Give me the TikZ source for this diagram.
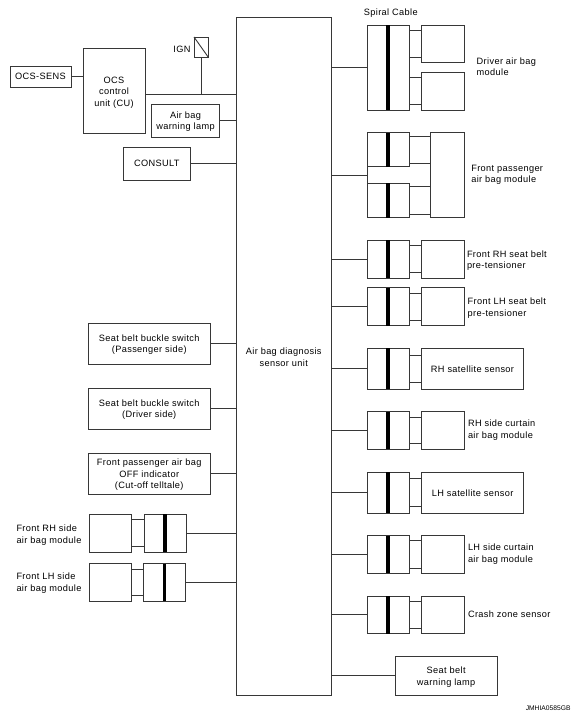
\documentclass[tikz,border=0pt]{standalone}
\usepackage{fontspec}
\setmainfont[LetterSpace=4]{Liberation Sans}
\newfontfamily\codefont{Liberation Sans}
\usetikzlibrary{positioning,calc}
\definecolor{wire}{RGB}{55,55,55}
\tikzset{
  box/.style={draw=wire,line width=0.9pt,fill=white,inner sep=0pt,outer sep=0pt},
  boxtext/.style={inner sep=0pt,outer sep=0pt,align=center},
  sidetext/.style={inner sep=0pt,outer sep=0pt,align=left,anchor=west},
  wirefeed/.style={draw=wire,line width=0.9pt},
  heavybar/.style={draw=black,line width=3.8pt}
}
% box from left, top, right, bottom in pixels, optional text shift
\newcommand{\boxnode}[7][0]{%
  \node[box,minimum width=#5pt-#3pt,minimum height=#6pt-#4pt,
    label={[boxtext,yshift=-#1pt]center:{#7}}] (#2) at ({(#3+#5)/2},{(#4+#6)/2}) {};}
\begin{document}
\begin{tikzpicture}[x=1pt,y=-1pt, every node/.style={font=\fontsize{9.2}{11.5}\selectfont}]
        \useasboundingbox (0,0) rectangle (580,721);
        % Sensor unit
        \boxnode[1]{unit}{236}{17}{331.5}{695}{Air bag diagnosis\\sensor unit}

        % Left column, upper part
        \boxnode{sens}{10}{66}{71}{87}{OCS-SENS}
        \boxnode[2]{ocs}{83}{48}{145}{133}{OCS\\control\\unit (CU)}
        \boxnode{ign}{194}{37}{208.5}{57.5}{}
        \node[inner sep=0pt] (ignlabel) at (182,49) {IGN};
        \boxnode[1]{lamp}{151.5}{104.5}{219.5}{137}{Air bag\\warning lamp}
        \boxnode{consult}{123}{147}{190.5}{180}{CONSULT}
        \draw[wirefeed] (sens.east) -- (sens.east -| ocs.west);
        \draw[wirefeed] (ocs.east |- 0,94) coordinate (ocsout) -- (ocsout -| unit.west);
        \draw[wirefeed] (ign.south) -- (ign.south |- ocsout);
        \draw[wirefeed] (ign.north west) -- (ign.south east);
        \draw[wirefeed] (lamp.east) -- (lamp.east -| unit.west);
        \draw[wirefeed] (consult.east) -- (consult.east -| unit.west);

        % Left column, switches
        \boxnode[1]{pasbuckle}{88.5}{323}{210}{364}{Seat belt buckle switch\\(Passenger side)}
        \boxnode[1]{drvbuckle}{88.5}{388}{210}{429}{Seat belt buckle switch\\(Driver side)}
        \boxnode[1]{offlamp}{88.5}{453.5}{210}{494}{Front passenger air bag\\OFF indicator\\(Cut-off telltale)}
        \foreach \n in {pasbuckle,drvbuckle,offlamp} {
          \draw[wirefeed] (\n.east) -- (\n.east -| unit.west);
        }

        % Left column, side air bags
        \foreach \n/\xm/\xc/\yt/\yb in {frh/89.5/144/514/552,flh/89.5/143.5/563.7/601} {
          \boxnode{\n mod}{\xm}{\yt}{\xm+41.5}{\yb}{}
          \boxnode{\n con}{\xc}{\yt}{\xc+42}{\yb}{}
          \draw[heavybar] (\n con.north) -- (\n con.south);
          \draw[wirefeed] (\n con.east) -- (\n con.east -| unit.west);
          \draw[wirefeed] ($(\n con.north west)+(0,5.4)$) coordinate (\n a) -- (\n a -| \n mod.east);
          \draw[wirefeed] ($(\n con.south west)+(0,-5.4)$) coordinate (\n b) -- (\n b -| \n mod.east);
        }
        \node[sidetext] (frhlabel) at (16.5,535) {Front RH side\\air bag module};
        \node[sidetext] (flhlabel) at (16.5,583.3) {Front LH side\\air bag module};

        % Right column, connector and one module
        \foreach \n/\yt/\yb/\xr/\off in {rhbelt/240.3/278.3/464.3/5.4,lhbelt/287.7/325.7/464.3/5.4,
            rhsat/348/389.3/523.3/7,rhcurt/411.7/449.3/464.3/5.4,lhsat/472.3/513/523.5/6.6,
            lhcurt/535.7/573.3/464.3/5.1,crash/596/633.7/464/5.3} {
          \boxnode{\n con}{367.3}{\yt}{409.3}{\yb}{}
          \boxnode{\n mod}{421.7}{\yt}{\xr}{\yb}{}
          \draw[heavybar] (\n con.north) -- (\n con.south);
          \draw[wirefeed] (\n con.west) -- (\n con.west -| unit.east);
          \draw[wirefeed] ($(\n con.north east)+(0,\off)$) coordinate (\n a) -- (\n a -| \n mod.west);
          \draw[wirefeed] ($(\n con.south east)+(0,-\off)$) coordinate (\n b) -- (\n b -| \n mod.west);
        }

        % Driver air bag, two modules
        \boxnode{drvcon}{367.3}{25}{409.3}{110}{}
        \boxnode{drvmoda}{421.7}{25}{464.3}{62.3}{}
        \boxnode{drvmodb}{421.7}{72.3}{464.3}{110}{}
        \draw[heavybar] (drvcon.north) -- (drvcon.south);
        \draw[wirefeed] (drvcon.west) -- (drvcon.west -| unit.east);
        \foreach \m in {drvmoda,drvmodb} {
          \draw[wirefeed] ($(\m.north west)+(0,5.3)$) coordinate (\m a) -- (\m a -| drvcon.east);
          \draw[wirefeed] ($(\m.south west)+(0,-5.3)$) coordinate (\m b) -- (\m b -| drvcon.east);
        }

        % Front passenger air bag, two connectors
        \boxnode{pascona}{367.3}{132.7}{409.3}{166.7}{}
        \boxnode{pasconb}{367.3}{183.3}{409.3}{217.7}{}
        \boxnode{pasmod}{430}{132.7}{464.3}{217.7}{}
        \foreach \m in {pascona,pasconb} {
          \draw[heavybar] (\m.north) -- (\m.south);
          \draw[wirefeed] ($(\m.north east)+(0,3.4)$) coordinate (\m a) -- (\m a -| pasmod.west);
          \draw[wirefeed] ($(\m.south east)+(0,-3.4)$) coordinate (\m b) -- (\m b -| pasmod.west);
        }
        \draw[wirefeed] (pascona.south west) -- (pasconb.north west);
        \coordinate (pasmid) at ($(pascona.south west)!0.5!(pasconb.north west)$);
        \draw[wirefeed] (pasmid) -- (pasmid -| unit.east);

        % Right column, texts
        \node[inner sep=0pt,anchor=west] (spiral) at (363.7,13) {Spiral Cable};
        \node[sidetext] (drvlabel) at (476.7,66.5) {Driver air bag\\module};
        \node[sidetext] (paslabel) at (471.3,175) {Front passenger\\air bag module};
        \node[sidetext] (rhbeltlabel) at (467,260.7) {Front RH seat belt\\pre-tensioner};
        \node[sidetext] (lhbeltlabel) at (467.7,308) {Front LH seat belt\\pre-tensioner};
        \node[inner sep=0pt] (rhsatlabel) at ($(rhsatmod)+(0,0.5)$) {RH satellite sensor};
        \node[sidetext] (rhcurtlabel) at (468,430) {RH side curtain\\air bag module};
        \node[inner sep=0pt] (lhsatlabel) at ($(lhsatmod)+(0,0.5)$) {LH satellite sensor};
        \node[sidetext] (lhcurtlabel) at (468,554) {LH side curtain\\air bag module};
        \node[sidetext] (crashlabel) at (468,614) {Crash zone sensor};

        % Seat belt warning lamp
        \boxnode[1.5]{beltlamp}{395.3}{656.3}{497}{695.3}{Seat belt\\warning lamp}
        \draw[wirefeed] (beltlamp.west) -- (beltlamp.west -| unit.east);

        \node[inner sep=0pt,anchor=east,font=\codefont\fontsize{6.7}{8}\selectfont] (code) at (570.7,708) {JMHIA0585GB};
      \end{tikzpicture}
\end{document}
